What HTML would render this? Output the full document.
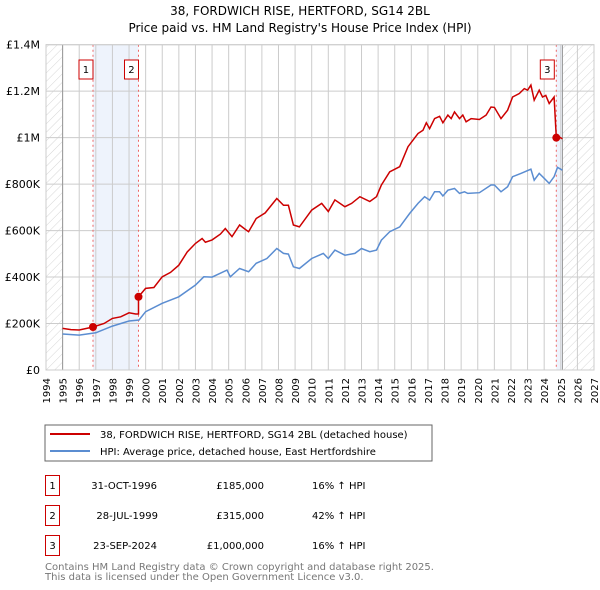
<!DOCTYPE html>
<html><head><meta charset="utf-8"><style>
body{margin:0;background:#fff;font-family:"DejaVu Sans","Liberation Sans",sans-serif;}
#wrap{position:relative;width:600px;height:590px;overflow:hidden;}
text{font-family:"DejaVu Sans","Liberation Sans",sans-serif;}
</style></head><body>
<div id="wrap">
<svg id="svg" width="600" height="590" xmlns="http://www.w3.org/2000/svg">
<defs>
<pattern id="hatch" width="6" height="6" patternUnits="userSpaceOnUse" patternTransform="rotate(45)">
<line x1="0" y1="0" x2="0" y2="6" stroke="#ccc" stroke-width="0.8"/></pattern>
</defs>
<text x="300" y="15" text-anchor="middle" font-size="12">38, FORDWICH RISE, HERTFORD, SG14 2BL</text>
<text x="300" y="32" text-anchor="middle" font-size="12">Price paid vs. HM Land Registry's House Price Index (HPI)</text>
<g id="plot"></g>
<rect x="45" y="425" width="387" height="36" fill="#fff" stroke="#666"/>
<line x1="50" y1="434" x2="90" y2="434" stroke="#cc0000" stroke-width="2"/>
<text x="100" y="438" font-size="10">38, FORDWICH RISE, HERTFORD, SG14 2BL (detached house)</text>
<line x1="50" y1="451" x2="90" y2="451" stroke="#5b8dd1" stroke-width="2"/>
<text x="100" y="455" font-size="10">HPI: Average price, detached house, East Hertfordshire</text>
<g font-size="10">
<rect x="45.5" y="475.5" width="14" height="20" fill="none" stroke="#cc0000"/><text x="52.5" y="489" text-anchor="middle">1</text>
<text x="157" y="489" text-anchor="end">31-OCT-1996</text><text x="264" y="489" text-anchor="end">£185,000</text><text x="312" y="489">16% ↑ HPI</text>
<rect x="45.5" y="505.5" width="14" height="20" fill="none" stroke="#cc0000"/><text x="52.5" y="519" text-anchor="middle">2</text>
<text x="158" y="519" text-anchor="end">28-JUL-1999</text><text x="264" y="519" text-anchor="end">£315,000</text><text x="312" y="519">42% ↑ HPI</text>
<rect x="45.5" y="535.5" width="14" height="20" fill="none" stroke="#cc0000"/><text x="52.5" y="549" text-anchor="middle">3</text>
<text x="157" y="549" text-anchor="end">23-SEP-2024</text><text x="264" y="549" text-anchor="end">£1,000,000</text><text x="312" y="549">16% ↑ HPI</text>
</g>
<text x="45" y="570" font-size="10" fill="#777">Contains HM Land Registry data © Crown copyright and database right 2025.</text>
<text x="45" y="580" font-size="10" fill="#777">This data is licensed under the Open Government Licence v3.0.</text>
</svg>
</div>
<script>
const redYears=[1995,1995.5,1996,1996.83,1997.5,1998,1998.5,1999,1999.4,1999.57,1999.57,2000,2000.5,2001,2001.5,2002,2002.5,2003,2003.4,2003.6,2004,2004.5,2004.8,2005.2,2005.66,2006.06,2006.2,2006.66,2007.2,2007.9,2008.3,2008.6,2008.9,2009.26,2010,2010.6,2011,2011.4,2012,2012.4,2012.9,2013.5,2013.9,2014.2,2014.7,2015.3,2015.8,2016.4,2016.7,2016.9,2017.1,2017.4,2017.7,2017.9,2018.2,2018.4,2018.6,2018.9,2019.1,2019.3,2019.6,2020.1,2020.5,2020.8,2021,2021.4,2021.8,2022.1,2022.5,2022.8,2023,2023.2,2023.4,2023.7,2023.9,2024.1,2024.3,2024.6,2024.73,2024.9,2025.1];
const redValues=[179,174,172,185,200,222,229,246,241,241,315,351,355,401,420,451,508,545,566,550,560,585,609,574,624,602,595,652,676,738,709,709,624,616,688,717,682,732,703,717,746,725,746,796,853,875,961,1018,1032,1064,1039,1082,1092,1064,1097,1082,1111,1082,1097,1068,1082,1078,1097,1132,1130,1082,1118,1175,1190,1211,1204,1226,1161,1204,1175,1182,1147,1175,1000,1003,995];
const hpiYears=[1995,1996,1997,1998,1999,1999.6,2000,2001,2002,2003,2003.5,2004,2004.9,2005.1,2005.66,2006.2,2006.66,2007.3,2007.9,2008.3,2008.6,2008.9,2009.26,2010,2010.7,2011,2011.4,2012,2012.6,2013,2013.5,2013.9,2014.2,2014.7,2015.3,2015.9,2016.4,2016.8,2017.1,2017.4,2017.7,2017.9,2018.2,2018.6,2018.9,2019.2,2019.4,2020.1,2020.8,2021,2021.4,2021.8,2022.1,2022.6,2023.2,2023.4,2023.7,2024,2024.3,2024.6,2024.8,2025.1];
const hpiValues=[155,150,160,189,211,215,251,287,315,366,401,400,430,401,437,423,459,480,523,502,499,444,437,480,502,480,516,494,502,523,509,516,559,595,616,674,717,746,731,767,767,749,774,781,760,767,760,763,796,796,767,789,832,846,864,817,846,825,803,832,872,860];
const saleYears=[1996.83,1999.57,2024.73];
const saleValues=[185,315,1000];
const saleLabels=["1","2","3"];
const yTicks=[0,200,400,600,800,1000,1200,1400];
const yTickLabels=["£0","£200K","£400K","£600K","£800K","£1M","£1.2M","£1.4M"];
const xTicks=[];for(let y=1994;y<=2027;y++)xTicks.push(y);

const X0=46,X1=594,Y0=370,Y1=44.7,YR0=1994,YR1=2027,VMAX=1400;
const xs=v=>X0+(v-YR0)/(YR1-YR0)*(X1-X0);
const ys=v=>Y0-v/VMAX*(Y0-Y1);
const NS="http://www.w3.org/2000/svg";
const g=document.getElementById('plot');
function mk(t,a){const e=document.createElementNS(NS,t);for(const k in a)e.setAttribute(k,a[k]);g.appendChild(e);return e;}
let e;
e=mk('rect',{x:X0,y:Y1,width:X1-X0,height:Y0-Y1,fill:'#fff'});


e=mk('rect',{x:X0,y:Y1,width:xs(1995)-X0,height:Y0-Y1,fill:'url(#hatch)'});


e=mk('rect',{x:xs(2025.1),y:Y1,width:X1-xs(2025.1),height:Y0-Y1,fill:'url(#hatch)'});


e=mk('rect',{x:xs(saleYears[0]),y:Y1,width:xs(saleYears[1])-xs(saleYears[0]),height:Y0-Y1,fill:'#eef3fc'});


e=mk('rect',{x:xs(saleYears[2]),y:Y1,width:xs(2025.1)-xs(saleYears[2]),height:Y0-Y1,fill:'#eef3fc'});


xTicks.forEach(t=>{
  e=mk('line',{x1:xs(t),x2:xs(t),y1:Y1,y2:Y0,stroke:'#ccc','stroke-width':1});
  
  
  e=mk('text',{x:0,y:0,'font-size':10,'text-anchor':'end',transform:`translate(${xs(t)+4},${Y0+8}) rotate(-90)`});
  e.textContent=t;
  
  
});
yTicks.forEach((t,i)=>{
  e=mk('line',{x1:X0,x2:X1,y1:ys(t),y2:ys(t),stroke:'#ccc','stroke-width':1});
  
  
  e=mk('text',{x:X0-6,y:ys(t)+4,'font-size':11,'text-anchor':'end'});
  e.textContent=yTickLabels[i];
  
  
});
e=mk('line',{x1:xs(1995),x2:xs(1995),y1:Y1,y2:Y0,stroke:'#999','stroke-width':1});


e=mk('line',{x1:xs(2025.1),x2:xs(2025.1),y1:Y1,y2:Y0,stroke:'#999','stroke-width':1});


saleYears.forEach((s,i)=>{
  e=mk('line',{x1:xs(s),x2:xs(s),y1:Y1,y2:Y0,stroke:'#e66','stroke-width':1,'stroke-dasharray':'2,3'});
  
  
});
function path(xa,va){return xa.map((x,i)=>(i?'L':'M')+xs(x).toFixed(1)+','+ys(va[i]).toFixed(1)).join('');}
e=mk('path',{d:path(hpiYears,hpiValues),fill:'none',stroke:'#5b8dd1','stroke-width':1.5});


e=mk('path',{d:path(redYears,redValues),fill:'none',stroke:'#cc0000','stroke-width':1.5});


saleYears.forEach((s,i)=>{
  e=mk('circle',{cx:xs(s),cy:ys(saleValues[i]),r:4,fill:'#cc0000'});
  
  
  const bx=xs(s)-(i==2?9:7)-7, by=60;
  e=mk('rect',{x:bx,y:by,width:14,height:19,fill:'#fff',stroke:'#cc0000'});
  
  
  e=mk('text',{x:bx+7,y:by+13,'font-size':10,'text-anchor':'middle'});
  e.textContent=saleLabels[i];
  
  
});
e=mk('rect',{x:X0,y:Y1,width:X1-X0,height:Y0-Y1,fill:'none',stroke:'#ccc'});


</script>
</body></html>
